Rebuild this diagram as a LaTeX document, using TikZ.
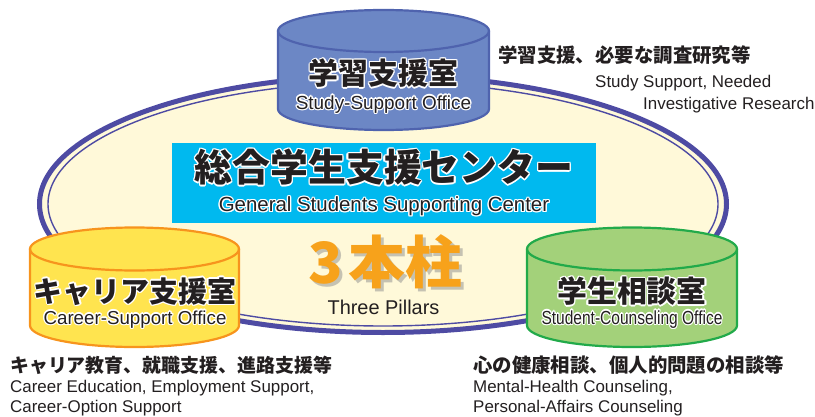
\documentclass[tikz,border=0pt]{standalone}
\usepackage{fontspec}
\setmainfont{Liberation Sans}
\newfontfamily\jp{Noto Sans CJK JP}
\usepackage{contour}
\contourlength{1.3pt}
\contournumber{10}
\definecolor{ellline}{HTML}{4E4BA3}
\definecolor{cream}{HTML}{FFF9D9}
\definecolor{bluefill}{HTML}{6C87C5}
\definecolor{blueline}{HTML}{4F63AE}
\definecolor{yelfill}{HTML}{FFE44F}
\definecolor{yelline}{HTML}{F7941D}
\definecolor{grnfill}{HTML}{A3D17A}
\definecolor{grnline}{HTML}{22AA4A}
\definecolor{cyanbox}{HTML}{00B9EF}
\definecolor{pillar}{HTML}{F7A21B}
\definecolor{ink}{HTML}{231F20}
\tikzset{
  txt/.style={inner sep=0pt, text=ink},
  note/.style={inner sep=0pt, text=ink, anchor=west},
  cylbody/.style={line width=2.2bp},
}
\newcommand{\jtitle}[2]{\contour{white}{\jp\bfseries\fontsize{#1}{#1}\selectfont #2}}
\newcommand{\etitle}[2]{\contour{white}{\fontsize{#1}{#1}\selectfont #2}}
\newcommand{\pillartext}{\jp\bfseries\fontsize{57}{57}\selectfont 3\hspace{5bp}本柱}
\begin{document}
\begin{tikzpicture}[x=1bp,y=1bp]
\useasboundingbox (0,0) rectangle (815,416);
% big ellipse
\fill[cream] (383,212) ellipse [x radius=343.5, y radius=128.5];
\draw[ellline, line width=5bp] (383,212) ellipse [x radius=343.5, y radius=128.5];
\draw[ellline, line width=1.4bp] (383,212) ellipse [x radius=335, y radius=122];
% top cylinder
\draw[cylbody, blueline, fill=bluefill] (278,385) -- (278,307) arc[start angle=180, end angle=360, x radius=105.5, y radius=21] -- (489,385) arc[start angle=0, end angle=180, x radius=105.5, y radius=21] -- cycle;
\draw[cylbody, blueline] (278,385) arc[start angle=180, end angle=360, x radius=105.5, y radius=21];
% left cylinder
\draw[cylbody, yelline, fill=yelfill] (30,167) -- (30,90.5) arc[start angle=180, end angle=360, x radius=104.5, y radius=21.5] -- (239,167) arc[start angle=0, end angle=180, x radius=104.5, y radius=21.5] -- cycle;
\draw[cylbody, yelline] (30,167) arc[start angle=180, end angle=360, x radius=104.5, y radius=21.5];
% right cylinder
\draw[cylbody, grnline, fill=grnfill] (527,167) -- (527,90.5) arc[start angle=180, end angle=360, x radius=105, y radius=21.5] -- (737,167) arc[start angle=0, end angle=180, x radius=105, y radius=21.5] -- cycle;
\draw[cylbody, grnline] (527,167) arc[start angle=180, end angle=360, x radius=105, y radius=21.5];
% center box
\fill[cyanbox] (172,273) rectangle (596,193);
\node[txt] (center) at (384,248) {\jtitle{38}{総合学生支援センター}};
\node[txt] (centeren) at (384,209) {\etitle{20.5}{General Students Supporting Center}};
% pillars
\node[inner sep=0pt, text=black!45, opacity=.5] (pshadow) at (388.5,151) {\pillartext};
\node[inner sep=0pt, text=pillar] (pillars) at (385.5,154) {\pillartext};
\node[txt] (pillarsen) at (383.5,109) {\fontsize{20}{20}\selectfont Three Pillars};
% cylinder titles
\node[txt] (study) at (383.5,342) {\jtitle{30}{学習支援室}};
\node[txt] (studyen) at (383.5,311) {\etitle{19}{Study-Support Office}};
\node[txt] (career) at (135,124) {\jtitle{29}{キャリア支援室}};
\node[txt] (careeren) at (135,96) {\etitle{18.8}{Career-Support Office}};
\node[txt] (couns) at (632,124) {\jtitle{30}{学生相談室}};
\node[txt] (counsen) at (632,96) {\scalebox{0.82}[1]{\etitle{19}{Student-Counseling Office}}};
% annotations
\node[note] (n1) at (498,361) {\jp\bfseries\fontsize{19.5}{19.5}\selectfont 学習支援、必要な調査研究等};
\node[note] (n1a) at (595,333) {\fontsize{17}{17}\selectfont Study Support, Needed};
\node[note] (n1b) at (643,311) {\fontsize{17}{17}\selectfont Investigative Research};
\node[note] (n2) at (10,51) {\jp\bfseries\fontsize{19}{19}\selectfont キャリア教育、就職支援、進路支援等};
\node[note] (n2a) at (10,28) {\fontsize{17}{17}\selectfont Career Education, Employment Support,};
\node[note] (n2b) at (10,8) {\fontsize{17}{17}\selectfont Career-Option Support};
\node[note] (n3) at (473,51) {\jp\bfseries\fontsize{19.5}{19.5}\selectfont 心の健康相談、個人的問題の相談等};
\node[note] (n3a) at (473,28) {\fontsize{17}{17}\selectfont Mental-Health Counseling,};
\node[note] (n3b) at (473,8) {\fontsize{17}{17}\selectfont Personal-Affairs Counseling};
\end{tikzpicture}
\end{document}
